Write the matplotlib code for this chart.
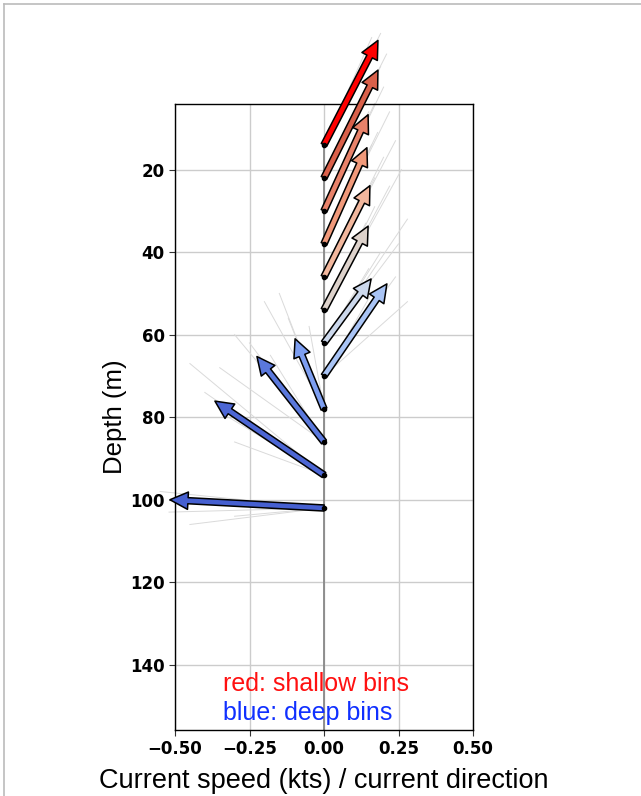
import matplotlib
matplotlib.use("Agg")
import matplotlib.pyplot as plt
from matplotlib.patches import FancyArrowPatch
from matplotlib.lines import Line2D

# ---- data ----
depths = [14, 22, 30, 38, 46, 54, 62, 70, 78, 86, 94, 102]
u_mean = [0.181, 0.181, 0.148, 0.144, 0.154, 0.148, 0.158, 0.211, -0.097, -0.225, -0.366, -0.517]
dz_mean = [-25.3, -26.1, -23.3, -23.3, -22.1, -20.3, -15.5, -22.3, -17.0, -20.7, -17.9, -2.0]
arrow_colors = ['#ff0000', '#d9604a', '#e8826a', '#f0997a', '#f2b79d', '#ddd2cb',
                '#ccd8ec', '#a9c4f5', '#7d9ef0', '#5a78dc', '#4c66d4', '#4660d0']
# individual ensemble members (thin grey lines): (u, dz) per bin
members_u = [
    [0.17, 0.19, 0.15, 0.16],
    [0.19, 0.21, 0.16, 0.18],
    [0.20, 0.17, 0.13, 0.15],
    [0.22, 0.18, 0.12, 0.16],
    [0.24, 0.20, 0.13, 0.17],
    [0.26, 0.22, 0.17, 0.14],
    [0.25, 0.28, 0.19, 0.15],
    [0.28, 0.24, 0.16, 0.20],
    [-0.20, -0.12, -0.05, -0.15],
    [-0.30, -0.25, -0.18, -0.35],
    [-0.45, -0.40, -0.32, -0.30],
    [-0.55, -0.52, -0.45, -0.30],
]
members_dz = [
    [-24, -27, -22, -26],
    [-27, -30, -24, -25],
    [-30, -26, -22, -24],
    [-32, -27, -20, -24],
    [-33, -29, -21, -24],
    [-34, -30, -25, -21],
    [-24, -30, -22, -18],
    [-18, -24, -20, -21],
    [-26, -22, -20, -28],
    [-26, -24, -21, -18],
    [-27, -20, -14, -8],
    [-4, 1, 4, 2],
]
xticks = [-0.50, -0.25, 0.00, 0.25, 0.50]
yticks = [20, 40, 60, 80, 100, 120, 140]

fig = plt.figure(figsize=(6.41, 7.96), dpi=100)
W, H = 641, 796
ax = fig.add_axes([175 / W, 1 - 730 / H, (473 - 175) / W, (730 - 104) / H])
ax.set_xlim(-0.5, 0.5)
ax.set_ylim(155.8, 4.1)
ax.set_xticks(xticks)
ax.set_xticklabels([f"{t:.2f}".replace("-", "\u2212") for t in xticks])
ax.set_yticks(yticks)
for lab in ax.get_xticklabels() + ax.get_yticklabels():
    lab.set_fontweight('bold')
    lab.set_fontsize(12)
    lab.set_family('DejaVu Sans')
ax.grid(True, color='#cccccc', linewidth=1.0)
ax.set_axisbelow(True)
ax.tick_params(length=4, color='#333333')
for s in ax.spines.values():
    s.set_linewidth(1.0)

# dark vertical line at 0 from first bin downwards
ax.plot([0, 0], [depths[0], 160], color='#888888', lw=1.3, zorder=1, clip_on=True)

# thin grey member lines
for d, us, dzs in zip(depths, members_u, members_dz):
    for uu, dd in zip(us, dzs):
        ax.plot([0, uu], [d, d + dd], color='#dadada', lw=0.7, zorder=2, clip_on=False)

# mean arrows
for d, uu, dd, c in zip(depths, u_mean, dz_mean, arrow_colors):
    arr = FancyArrowPatch((0, d), (uu, d + dd),
                          arrowstyle='simple,head_width=12.5,head_length=13,tail_width=4.4',
                          mutation_scale=1, facecolor=c, edgecolor='black', lw=1.1,
                          shrinkA=0, shrinkB=0, zorder=5, clip_on=False)
    ax.add_patch(arr)
ax.plot([0] * len(depths), depths, 'o', color='black', ms=3, zorder=6, clip_on=False)

ax.text(-0.338, 144.6, 'red: shallow bins', color='#ff1010', fontsize=18,
        family='Liberation Sans', va='center', ha='left')
ax.text(-0.338, 151.6, 'blue: deep bins', color='#1030ff', fontsize=18,
        family='Liberation Sans', va='center', ha='left')

ax.set_xlabel('Current speed (kts) / current direction', fontsize=19.5,
              family='Liberation Sans', labelpad=7)
ax.set_ylabel('Depth (m)', fontsize=18.5, family='Liberation Sans', labelpad=2)

# screenshot border (top and left)
fig.add_artist(Line2D([4 / W, 1], [1 - 4 / H, 1 - 4 / H], color='#bbbbbb', lw=1.2))
fig.add_artist(Line2D([4 / W, 4 / W], [0, 1 - 4 / H], color='#bbbbbb', lw=1.2))

fig.savefig('out.png', dpi=100)
